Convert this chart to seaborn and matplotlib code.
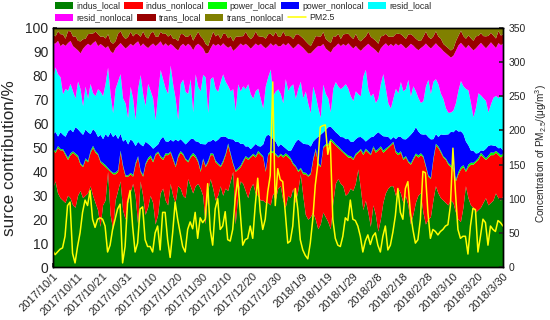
import matplotlib
matplotlib.use('Agg')
import matplotlib.pyplot as plt
import pandas as pd
import seaborn as sns

# daily source contributions (%) 2017/10/1 - 2018/3/30
indus_local = [33, 36, 31, 29, 28, 27, 30, 29, 26, 25,
               30, 32, 29, 30, 31, 34, 30, 27, 24, 17,
               26, 28, 40, 22, 16, 28, 32, 36, 24, 20,
               27, 31, 35, 30, 18, 36, 30, 22, 25, 30,
               27, 18, 22, 31, 33, 28, 26, 35, 30, 27,
               34, 33, 30, 29, 37, 34, 31, 34, 35, 33,
               30, 18, 32, 37, 33, 28, 30, 34, 30, 33,
               32, 36, 40, 18, 30, 36, 35, 32, 29, 33,
               35, 31, 30, 28, 28, 27, 27, 26, 31, 28,
               33, 34, 28, 25, 30, 29, 33, 27, 32, 39,
               30, 22, 20, 21, 23, 20, 16, 18, 23, 21,
               19, 16, 27, 35, 37, 35, 34, 30, 31, 33,
               32, 35, 41, 33, 24, 28, 23, 17, 26, 22,
               15, 20, 27, 31, 33, 34, 34, 30, 33, 31,
               27, 30, 26, 18, 22, 27, 30, 31, 23, 18,
               20, 21, 28, 34, 31, 29, 28, 27, 26, 28,
               27, 23, 20, 19, 25, 34, 29, 26, 25, 23,
               24, 25, 27, 29, 26, 27, 28, 31, 29, 28, 30]
indus_nonlocal = [16, 12, 19, 20, 21, 20, 15, 18, 22, 22,
                  16, 11, 13, 15, 13, 14, 20, 21, 23, 27,
                  17, 14, 1, 18, 23, 11, 8, 12, 18, 18,
                  11, 8, 3, 13, 28, 4, 8, 21, 20, 16,
                  17, 29, 26, 15, 12, 19, 21, 13, 15, 15,
                  12, 15, 17, 16, 7, 12, 16, 12, 9, 7,
                  15, 24, 12, 10, 14, 16, 13, 8, 14, 14,
                  19, 11, 3, 22, 11, 6, 9, 14, 16, 13,
                  12, 15, 18, 19, 18, 13, 20, 22, 17, 19,
                  13, 13, 18, 22, 16, 16, 10, 15, 8, 2,
                  9, 17, 18, 18, 22, 29, 27, 24, 27, 30,
                  32, 37, 25, 16, 13, 14, 14, 17, 15, 13,
                  13, 12, 7, 16, 23, 21, 25, 30, 24, 26,
                  34, 30, 21, 18, 17, 17, 18, 18, 14, 17,
                  18, 16, 18, 25, 23, 20, 16, 16, 23, 24,
                  18, 16, 17, 17, 19, 19, 18, 18, 17, 14,
                  14, 13, 19, 22, 17, 6, 13, 17, 18, 21,
                  21, 22, 19, 16, 20, 20, 19, 17, 18, 18, 17]
power_local = [0.6, 0.7, 0.8, 0.6, 0.5, 0.7, 0.9, 0.8, 0.6, 0.7,
               0.8, 0.6, 0.5, 0.7, 0.6, 0.8, 0.9, 0.7, 0.6, 0.5,
               0.7, 0.8, 0.6, 0.5, 0.6, 0.7, 0.8, 0.9, 0.7, 0.6,
               0.5, 0.6, 0.7, 0.8, 0.6, 0.5, 0.7, 0.6, 0.8, 0.9,
               0.7, 0.6, 0.5, 0.6, 0.7, 0.8, 0.6, 0.5, 0.7, 0.6,
               0.8, 0.7, 0.6, 0.5, 0.6, 0.7, 0.9, 0.8, 0.6, 0.7,
               0.6, 0.5, 0.7, 0.8, 0.6, 0.7, 0.5, 0.6, 0.8, 0.7,
               0.9, 0.7, 0.6, 0.5, 0.6, 0.7, 0.8, 0.6, 0.7, 0.5,
               0.6, 0.7, 0.8, 0.6, 0.5, 0.7, 0.6, 0.8, 0.7, 0.6,
               0.5, 0.6, 0.7, 0.8, 0.9, 0.7, 0.6, 0.5, 0.6, 0.7,
               0.8, 0.6, 0.5, 0.6, 0.7, 0.8, 0.7, 0.6, 0.5, 0.6,
               0.7, 0.9, 0.8, 0.6, 0.7, 0.6, 0.5, 0.7, 0.8, 0.6,
               0.6, 0.7, 0.5, 0.6, 0.8, 0.7, 0.6, 0.5, 0.7, 0.8,
               0.6, 0.7, 0.9, 0.8, 0.6, 0.5, 0.6, 0.7, 0.8, 0.6,
               0.7, 0.6, 0.5, 0.6, 0.8, 0.7, 0.9, 0.8, 0.6, 0.7,
               0.5, 0.6, 0.7, 0.8, 0.6, 0.7, 0.5, 0.6, 0.7, 0.8,
               0.6, 0.7, 0.9, 1.0, 0.8, 0.7, 1.1, 0.9, 0.8, 0.7,
               0.9, 1.0, 0.8, 0.7, 0.9, 1.2, 1.0, 0.8, 0.9, 1.0, 0.8]
power_nonlocal = [6, 8, 4, 7, 6, 7, 11, 10, 8, 11,
                  11, 13, 13, 12, 12, 7, 7, 8, 7, 11,
                  10, 13, 13, 16, 15, 16, 13, 7, 10, 15,
                  13, 14, 14, 7, 6, 11, 12, 9, 6, 4,
                  5, 3, 3, 7, 9, 5, 5, 5, 7, 11,
                  6, 5, 5, 6, 8, 7, 6, 6, 8, 11,
                  6, 9, 8, 5, 6, 8, 10, 12, 10, 7,
                  2, 6, 10, 12, 11, 9, 7, 4, 5, 3,
                  3, 5, 2, 3, 5, 14, 8, 6, 5, 5,
                  4, 4, 4, 2, 2, 3, 7, 10, 13, 11,
                  12, 12, 13, 11, 7, 4, 11, 13, 6, 6,
                  7, 5, 5, 5, 5, 5, 6, 6, 7, 6,
                  7, 6, 6, 5, 6, 3, 5, 7, 4, 7,
                  7, 5, 6, 5, 4, 2, 2, 5, 7, 6,
                  8, 7, 10, 12, 11, 11, 10, 8, 9, 13,
                  16, 16, 8, 4, 4, 7, 9, 10, 12, 14,
                  15, 21, 17, 15, 13, 12, 8, 5, 5, 3,
                  2, 1, 2, 4, 4, 3, 3, 2, 2, 3, 1]
resid_local = [23, 27, 26, 23, 17, 20, 17, 19, 17, 12,
               20, 18, 12, 18, 14, 21, 15, 15, 20, 18,
               18, 21, 29, 16, 10, 19, 24, 25, 18, 15,
               11, 22, 18, 11, 22, 29, 22, 15, 25, 23,
               21, 11, 21, 29, 24, 22, 20, 31, 24, 17,
               9, 23, 26, 22, 20, 25, 11, 28, 23, 22,
               29, 28, 12, 26, 26, 22, 20, 23, 26, 23,
               22, 20, 21, 13, 24, 22, 24, 24, 26, 23,
               20, 22, 24, 20, 15, 21, 24, 28, 18, 21,
               24, 21, 18, 29, 25, 27, 26, 18, 21, 25,
               19, 22, 17, 14, 23, 18, 12, 7, 20, 15,
               12, 6, 17, 21, 20, 20, 21, 23, 21, 19,
               17, 20, 18, 17, 26, 30, 21, 17, 18, 13,
               14, 21, 26, 20, 14, 13, 16, 21, 18, 23,
               20, 21, 24, 16, 19, 15, 14, 13, 14, 20,
               24, 19, 24, 23, 22, 17, 15, 11, 9, 8,
               9, 11, 17, 21, 20, 22, 23, 20, 14, 19,
               25, 23, 22, 20, 14, 17, 20, 21, 21, 22, 22]
resid_nonlocal = [15, 10, 14, 13, 21, 18, 20, 18, 19, 21,
                  13, 15, 24, 17, 23, 16, 21, 23, 18, 20,
                  21, 15, 9, 18, 25, 17, 15, 13, 22, 23,
                  30, 18, 22, 32, 20, 12, 21, 25, 15, 19,
                  23, 31, 21, 12, 14, 19, 20, 9, 16, 21,
                  29, 16, 15, 19, 21, 14, 26, 12, 18, 19,
                  11, 10, 25, 13, 14, 18, 20, 15, 13, 15,
                  16, 19, 16, 26, 16, 20, 17, 19, 16, 19,
                  22, 20, 18, 23, 26, 16, 13, 11, 21, 20,
                  18, 20, 25, 14, 20, 17, 15, 22, 19, 15,
                  21, 17, 21, 25, 15, 20, 26, 30, 17, 19,
                  20, 25, 17, 15, 18, 18, 18, 16, 19, 21,
                  22, 19, 19, 19, 12, 10, 19, 21, 19, 22,
                  19, 15, 12, 19, 24, 27, 22, 19, 20, 16,
                  19, 17, 14, 22, 17, 18, 20, 23, 23, 18,
                  14, 19, 15, 15, 16, 19, 20, 23, 24, 23,
                  23, 22, 19, 16, 17, 17, 19, 23, 28, 25,
                  20, 22, 22, 22, 28, 26, 22, 20, 23, 21, 23]
trans_local = [4, 3, 4, 5, 4, 3, 5, 4, 4, 5,
               4, 5, 4, 3, 4, 5, 4, 4, 5, 3,
               4, 4, 5, 4, 4, 3, 5, 5, 4, 4,
               4, 5, 4, 4, 3, 4, 5, 4, 4, 5,
               5, 4, 3, 4, 5, 4, 4, 4, 3, 4,
               4, 5, 4, 4, 3, 5, 4, 4, 5, 4,
               4, 4, 3, 4, 5, 4, 4, 3, 4, 5,
               4, 4, 4, 5, 4, 3, 4, 5, 4, 4,
               4, 5, 4, 3, 4, 4, 5, 4, 4, 5,
               4, 4, 5, 4, 3, 4, 4, 5, 4, 4,
               4, 4, 4, 3, 4, 5, 4, 4, 5, 4,
               4, 4, 5, 4, 4, 3, 4, 5, 4, 4,
               4, 5, 4, 4, 4, 4, 5, 4, 4, 4,
               4, 5, 4, 4, 4, 3, 4, 4, 5, 4,
               4, 4, 5, 4, 4, 4, 4, 3, 4, 5,
               4, 4, 4, 5, 4, 4, 3, 3, 3, 3,
               3, 4, 4, 5, 4, 4, 4, 4, 4, 5,
               4, 4, 4, 5, 4, 4, 4, 4, 5, 4, 4]
pm25 = [25, 18, 22, 26, 28, 45, 90, 95, 20, 6,
        30, 50, 80, 98, 90, 112, 70, 58, 70, 72,
        70, 60, 22, 32, 55, 70, 85, 92, 6, 30,
        95, 112, 60, 22, 35, 85, 88, 40, 30, 30,
        22, 50, 60, 25, 80, 80, 40, 14, 50, 95,
        70, 50, 30, 22, 55, 66, 56, 80, 42, 72,
        65, 70, 122, 55, 32, 85, 100, 55, 60, 81,
        40, 38, 55, 100, 130, 80, 32, 40, 42, 60,
        42, 90, 130, 81, 55, 70, 110, 134, 271, 90,
        144, 128, 125, 80, 35, 38, 60, 115, 85, 40,
        25, 17, 12, 35, 70, 120, 150, 205, 207, 208,
        165, 184, 70, 42, 32, 30, 45, 72, 68, 98,
        70, 68, 60, 45, 22, 38, 47, 33, 45, 50,
        32, 22, 45, 60, 25, 32, 51, 75, 115, 80,
        70, 115, 125, 80, 55, 35, 40, 70, 140, 138,
        80, 42, 55, 52, 47, 52, 55, 60, 62, 90,
        174, 110, 55, 42, 45, 45, 19, 60, 86, 84,
        22, 45, 70, 65, 32, 60, 55, 52, 68, 65, 60]

sources = ['indus_local', 'indus_nonlocal', 'power_local', 'power_nonlocal',
           'resid_local', 'resid_nonlocal', 'trans_local', 'trans_nonlocal']
colors = ['#008000', '#FF0000', '#00FF00', '#0000FF',
          '#00FFFF', '#FF00FF', '#990000', '#808000']

dates = pd.date_range('2017-10-01', '2018-03-30', freq='D')
df = pd.DataFrame({'indus_local': indus_local, 'indus_nonlocal': indus_nonlocal,
                   'power_local': power_local, 'power_nonlocal': power_nonlocal,
                   'resid_local': resid_local, 'resid_nonlocal': resid_nonlocal,
                   'trans_local': trans_local}, index=dates)
# shares add up to 100 %, transport (non-local) is the remainder
df['trans_nonlocal'] = 100 - df.sum(axis=1)
pm = pd.DataFrame({'date': dates, 'PM2.5': pm25})

sns.set_theme(style='ticks')
plt.rcParams['font.family'] = ['Liberation Sans', 'DejaVu Sans']
plt.rcParams['mathtext.fontset'] = 'custom'
plt.rcParams['mathtext.rm'] = 'Liberation Sans'
plt.rcParams['mathtext.it'] = 'Liberation Sans'

fig = plt.figure(figsize=(5.5, 3.2), dpi=100)
ax = fig.add_axes([0.0955, 0.1656, 0.819, 0.747])

polys = ax.stackplot(dates, [df[s] for s in sources], colors=colors,
                     labels=sources, linewidth=0)
ax.set_xlim(dates[0], dates[-1])
ax.set_ylim(0, 100)
ax.set_yticks(range(0, 101, 10))
ax.set_ylabel('surce contribution/%', fontsize=12.3)
ax.yaxis.set_label_coords(-0.078, 0.456)
ax.tick_params(axis='y', labelsize=10, direction='in', length=3, pad=3)

ticks = dates[::10]
ax.set_xticks(ticks)
ax.set_xticklabels([f'{d.year}/{d.month}/{d.day}' for d in ticks],
                   rotation=45, ha='right', rotation_mode='anchor', fontsize=8)
ax.tick_params(axis='x', direction='in', length=3, pad=3)
ax.set_xlabel('')

ax2 = ax.twinx()
sns.lineplot(data=pm, x='date', y='PM2.5', ax=ax2, color='#FFFF00',
             linewidth=1.1, label='PM2.5', legend=False)
ax2.set_ylim(0, 350)
ax2.set_yticks(range(0, 351, 50))
ax2.set_xlim(dates[0], dates[-1])
ax2.set_ylabel('Concentration of PM$_{2.5}$/(μg/m$^3$)', fontsize=7.2)
ax2.yaxis.set_label_coords(1.068, 0.473)
ax2.tick_params(axis='y', labelsize=7.5, direction='in', length=3, pad=4)

for a in (ax, ax2):
    for sp in a.spines.values():
        sp.set_visible(True)
        sp.set_color('black')
        sp.set_linewidth(1.0)

line = ax2.get_lines()[0]
handles = list(polys) + [line]
labels = sources + ['PM2.5']
leg_kw = dict(loc='upper left', frameon=False, fontsize=6.3, handlelength=2.1,
              handleheight=0.95, handletextpad=0.35, columnspacing=0.45,
              borderpad=0, borderaxespad=0)
# two rows laid out separately so each row flows left to right
leg1 = fig.legend(handles[:5], labels[:5], ncol=5,
                  bbox_to_anchor=(0.1, 0.995), **leg_kw)
fig.legend(handles[5:], labels[5:], ncol=4,
           bbox_to_anchor=(0.1, 0.958), **leg_kw)

fig.savefig('out.png', dpi=100)
